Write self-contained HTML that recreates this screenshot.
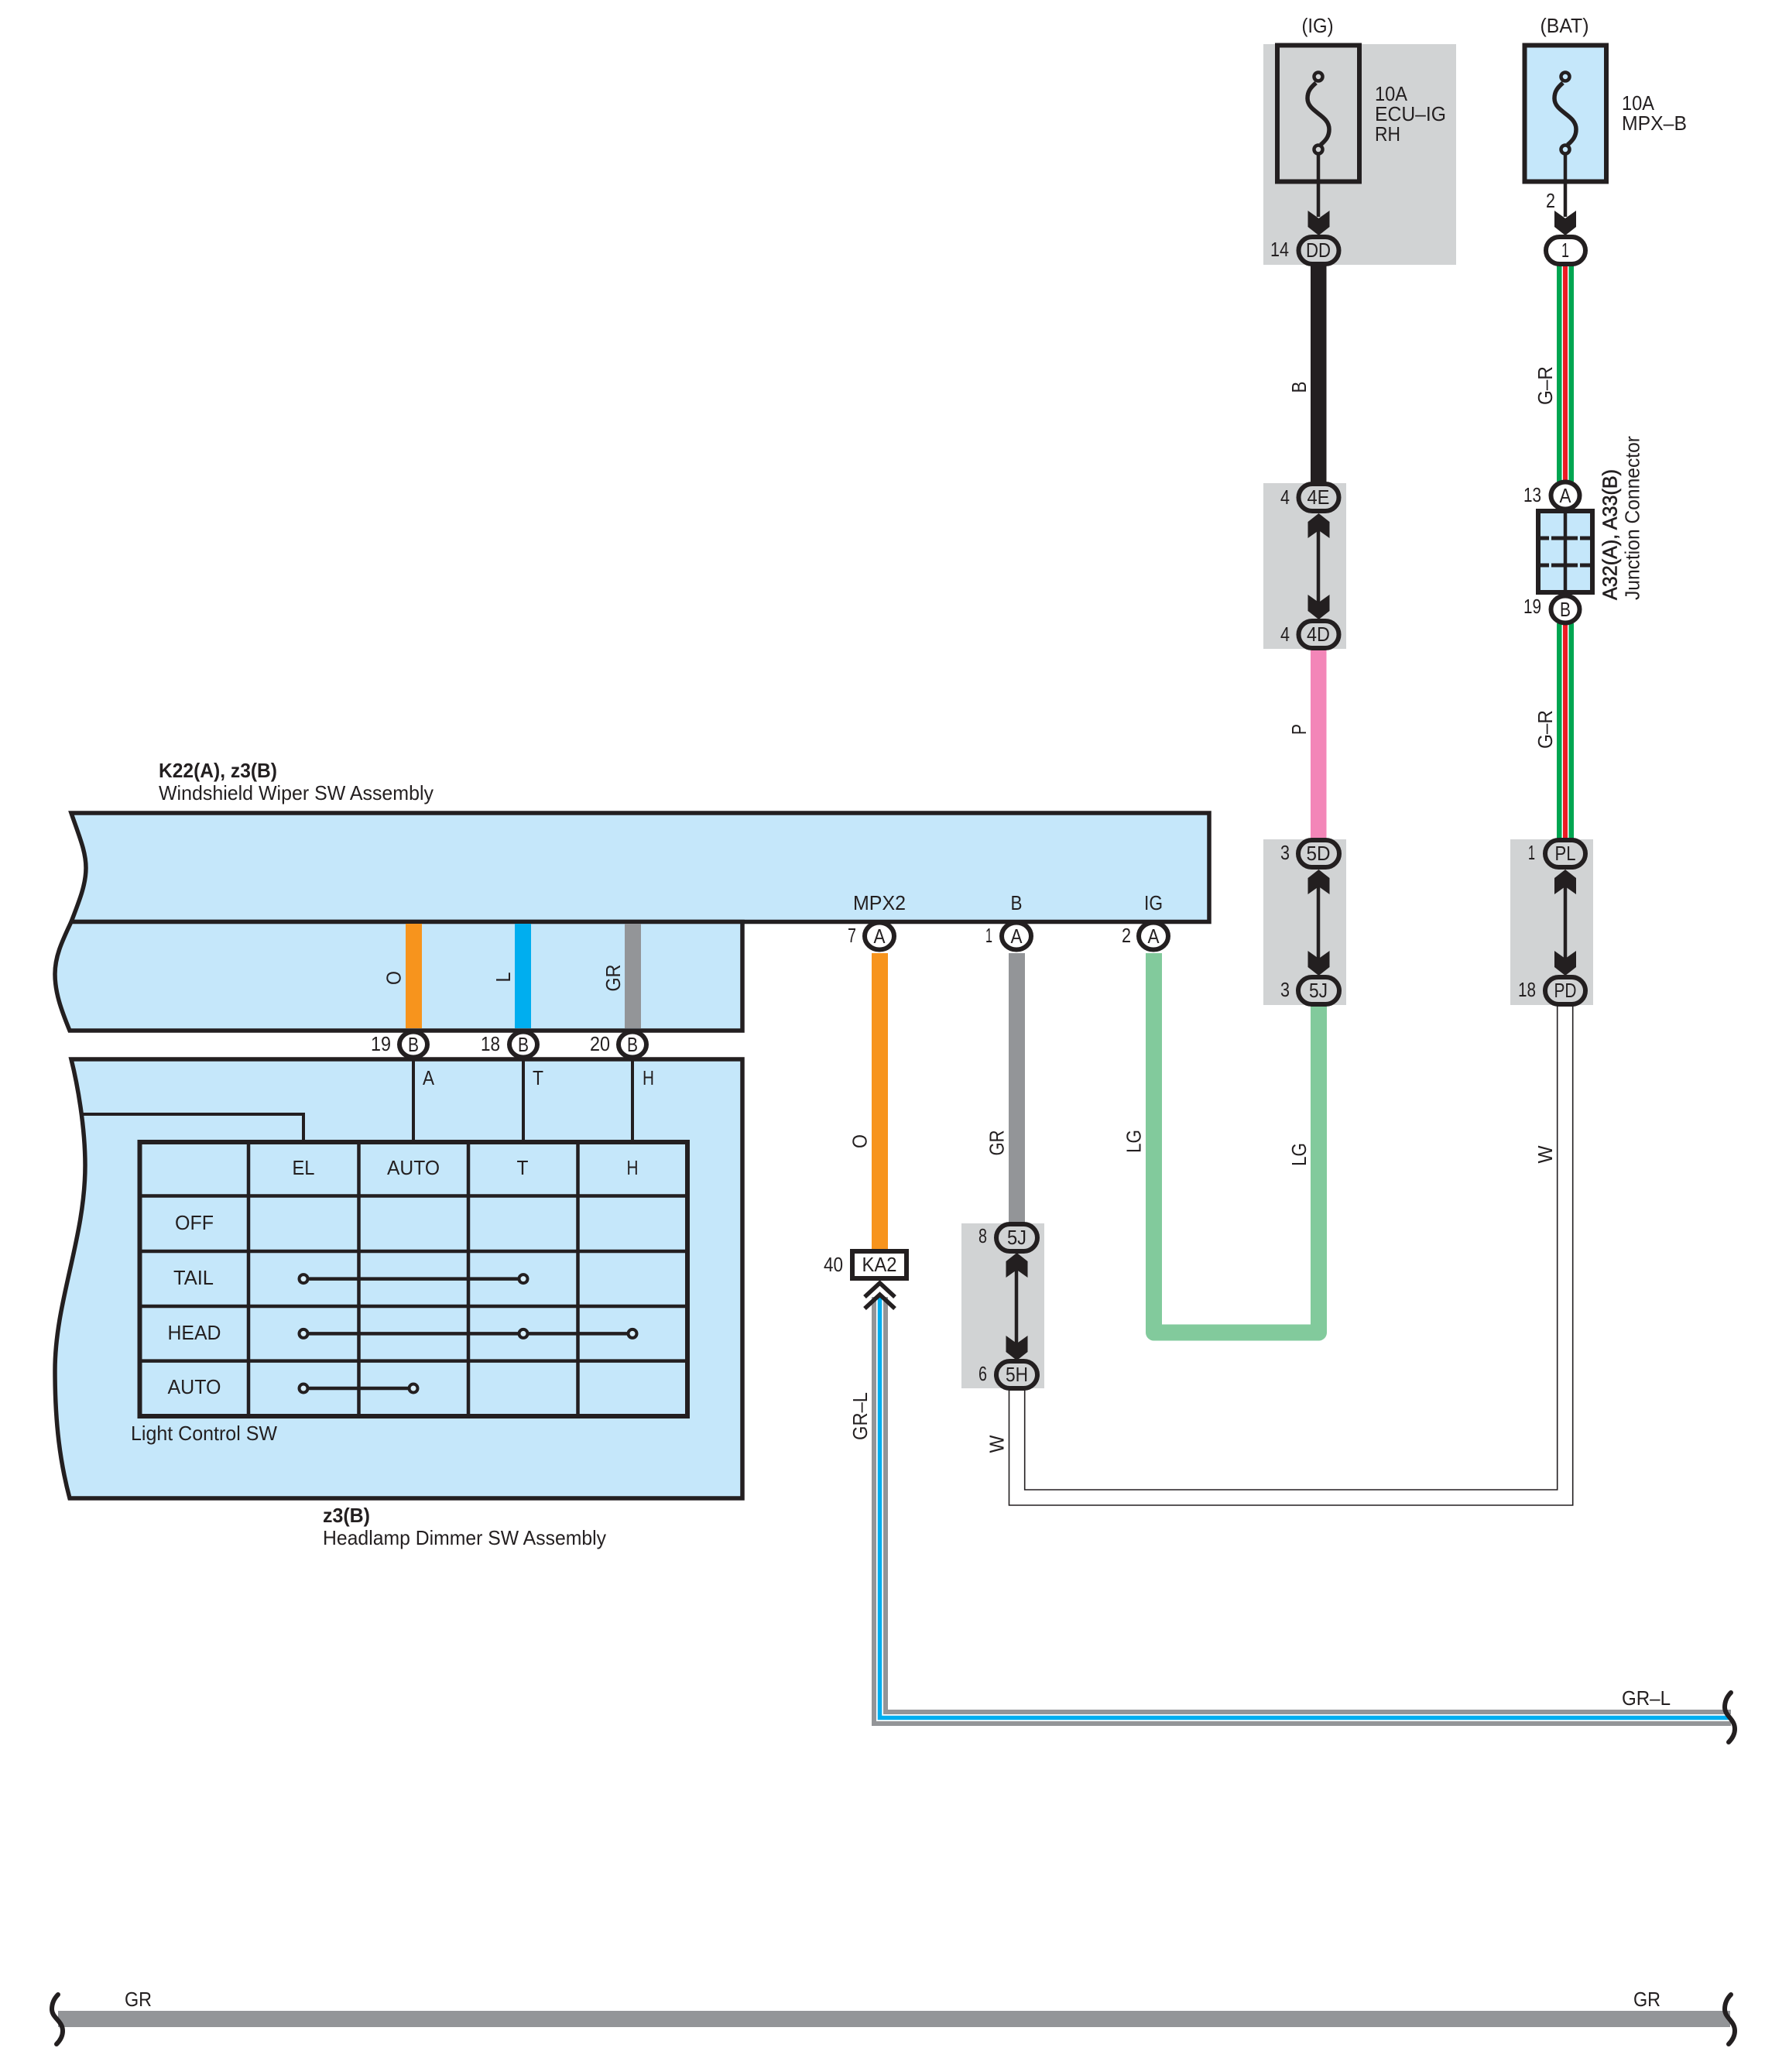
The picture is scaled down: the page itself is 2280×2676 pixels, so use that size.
<!DOCTYPE html>
<html>
<head>
<meta charset="utf-8">
<style>
html,body{margin:0;padding:0;background:#fff;width:2280px;height:2676px;overflow:hidden}
svg{display:block}
text{font-family:"Liberation Sans",sans-serif;font-size:26px;fill:#231f20}
.m{text-anchor:middle}
.b{font-weight:bold}
</style>
</head>
<body>
<svg width="2280" height="2676" viewBox="0 0 2280 2676" xmlns="http://www.w3.org/2000/svg">
<defs>
<polygon id="ad" points="-14,0 0,10 14,0 14,21 0,32 -14,21" fill="#231f20"/>
<polygon id="au" points="-14,0 0,-10 14,0 14,-21 0,-32 -14,-21" fill="#231f20"/>
</defs>

<!-- gray blocks -->
<g fill="#d1d3d4">
<rect x="1632" y="57" width="249" height="285"/>
<rect x="1632" y="624" width="107" height="214"/>
<rect x="1632" y="1084" width="107" height="214"/>
<rect x="1951" y="1084" width="107" height="214"/>
<rect x="1242" y="1580" width="107" height="213"/>
</g>

<!-- component boxes -->
<g fill="#c5e7fa" stroke="#231f20" stroke-width="5.5" stroke-linejoin="miter">
<path d="M92,1050 C103,1082 111,1100 111,1121 C111,1142 103,1162 92,1190.5 H1562 V1050 Z"/>
<path d="M92,1190.5 C79,1218 71,1236 71,1258 C71,1282 79,1304 90,1331 H959 V1190.5 Z"/>
<path d="M92,1368 C100,1400 110,1455 110,1505 C110,1600 71,1680 71,1770 C71,1840 78,1890 90,1935 H959 V1368 Z"/>
</g>

<!-- interior wires of switch -->
<g fill="none" stroke="#231f20" stroke-width="4">
<path d="M106,1439 H392 V1475"/>
<path d="M534,1368 V1475"/>
<path d="M676,1368 V1475"/>
<path d="M817,1368 V1475"/>
</g>

<!-- table -->
<g fill="none" stroke="#231f20">
<rect x="180.500" y="1475" width="707.500" height="354" stroke-width="6"/>
<g stroke-width="4.500">
<path d="M321,1475 V1829 M463.500,1475 V1829 M605,1475 V1829 M746.500,1475 V1829"/>
<path d="M180,1544.500 H888 M180,1616 H888 M180,1687 H888 M180,1757.600 H888"/>
</g>
<g stroke-width="4.500">
<path d="M392,1651.600 H675 M392,1722.400 H817 M392,1793 H534"/>
</g>
</g>
<g fill="#d9f0fc" stroke="#231f20" stroke-width="4">
<circle cx="392" cy="1651.600" r="5.500"/>
<circle cx="676" cy="1651.600" r="5.500"/>
<circle cx="392" cy="1722.400" r="5.500"/>
<circle cx="676" cy="1722.400" r="5.500"/>
<circle cx="817" cy="1722.400" r="5.500"/>
<circle cx="392" cy="1793" r="5.500"/>
<circle cx="534" cy="1793" r="5.500"/>
</g>

<!-- colored wires in switch -->
<rect x="524" y="1193" width="21" height="135" fill="#f7941d"/>
<rect x="665" y="1193" width="21" height="135" fill="#00aeef"/>
<rect x="807" y="1193" width="21" height="135" fill="#939598"/>

<!-- main wires -->
<rect x="1693" y="340" width="20.500" height="284" fill="#231f20"/>
<rect x="1693" y="838" width="20.500" height="246" fill="#f386b8"/>
<rect x="1126" y="1231" width="21" height="384" fill="#f7941d"/>
<rect x="1303" y="1231" width="21" height="350" fill="#939598"/>
<path d="M1490.500,1231 V1721 H1703.500 V1298" fill="none" stroke="#82ca9c" stroke-width="21" stroke-linejoin="round"/>

<!-- G-R wires -->
<g>
<rect x="2011" y="343" width="22" height="279" fill="#00a651"/>
<rect x="2017.500" y="343" width="9" height="279" fill="#fff"/>
<rect x="2019" y="343" width="6" height="279" fill="#ed1c24"/>
<rect x="2011" y="805" width="22" height="279" fill="#00a651"/>
<rect x="2017.500" y="805" width="9" height="279" fill="#fff"/>
<rect x="2019" y="805" width="6" height="279" fill="#ed1c24"/>
</g>

<!-- W wires -->
<g fill="none" stroke="#231f20" stroke-width="1.600">
<path d="M1303.500,1794 V1944 H2031.700 V1297"/>
<path d="M1323.700,1794 V1924 H2011.700 V1297"/>
</g>

<!-- GR-L wire -->
<g fill="none" stroke-linejoin="miter">
<path d="M1136.500,1675 V2218.500 H2236" stroke="#939598" stroke-width="21"/>
<path d="M1136.500,1675 V2218.500 H2236" stroke="#fff" stroke-width="9"/>
<path d="M1136.500,1675 V2218.500 H2236" stroke="#00aeef" stroke-width="5.500"/>
</g>

<!-- GR bottom wire -->
<path d="M75,2607.500 H2235" stroke="#939598" stroke-width="21" fill="none"/>

<!-- squiggles -->
<g fill="none" stroke="#231f20" stroke-width="6" stroke-linecap="round">
<path d="M2236,2186 C2230,2192 2228,2198 2228,2205 C2228,2216 2241,2220 2241,2233 C2241,2240 2238,2245 2233,2250"/>
<path d="M75,2576 C69,2582 67,2588 67,2595 C67,2606 81,2610 81,2623 C81,2630 78,2635 73,2640"/>
<path d="M2236,2576 C2230,2582 2228,2588 2228,2595 C2228,2606 2241,2610 2241,2623 C2241,2630 2238,2635 2233,2640"/>
</g>

<!-- fuses -->
<rect x="1650" y="58.500" width="106" height="176" fill="#d1d3d4" stroke="#231f20" stroke-width="6"/>
<rect x="1969.500" y="58.500" width="105.500" height="176" fill="#c5e7fa" stroke="#231f20" stroke-width="6"/>
<g fill="none" stroke="#231f20" stroke-width="5.500">
<path d="M1700,107 C1693,113 1689,118 1689,127 C1689,145 1717,148 1717,167 C1717,176 1713,181 1706,187"/>
<path d="M2019,107 C2012,113 2008,118 2008,127 C2008,145 2036,148 2036,167 C2036,176 2032,181 2025,187"/>
</g>
<circle cx="1703" cy="99" r="5.500" fill="#d1d3d4" stroke="#231f20" stroke-width="4.500"/>
<circle cx="1703" cy="193" r="5.500" fill="#d1d3d4" stroke="#231f20" stroke-width="4.500"/>
<circle cx="2022" cy="99" r="5.500" fill="#c5e7fa" stroke="#231f20" stroke-width="4.500"/>
<circle cx="2022" cy="193" r="5.500" fill="#c5e7fa" stroke="#231f20" stroke-width="4.500"/>

<!-- arrow lines -->
<g fill="none" stroke="#231f20" stroke-width="4.500">
<path d="M1703,199 V280"/>
<path d="M2022,199 V280"/>
<path d="M1703,680 V780"/>
<path d="M1703,1140 V1240"/>
<path d="M2022,1140 V1240"/>
<path d="M1313,1635 V1735"/>
</g>
<use href="#ad" x="1703.500" y="272"/>
<use href="#ad" x="2022" y="272"/>
<use href="#au" x="1703.500" y="695"/>
<use href="#ad" x="1703.500" y="768"/>
<use href="#au" x="1703.500" y="1155"/>
<use href="#ad" x="1703.500" y="1228"/>
<use href="#au" x="2022" y="1155"/>
<use href="#ad" x="2022" y="1228"/>
<use href="#au" x="1313.500" y="1650"/>
<use href="#ad" x="1313.500" y="1725"/>

<!-- chevrons -->
<g fill="none" stroke="#231f20" stroke-width="5.500">
<path d="M1117,1675 L1136.500,1657 L1156,1675"/>
<path d="M1117,1690 L1136.500,1672 L1156,1690"/>
</g>

<!-- ovals gray -->
<g fill="#d1d3d4" stroke="#231f20" stroke-width="6">
<rect x="1677.500" y="306" width="52" height="35" rx="17.500"/>
<rect x="1677.500" y="625" width="52" height="35" rx="17.500"/>
<rect x="1677.500" y="802" width="52" height="35" rx="17.500"/>
<rect x="1677" y="1085" width="53" height="35" rx="17.500"/>
<rect x="1677" y="1262" width="53" height="35" rx="17.500"/>
<rect x="1996" y="1085" width="52" height="35" rx="17.500"/>
<rect x="1996" y="1262" width="52" height="35" rx="17.500"/>
<rect x="1287" y="1581" width="53" height="35" rx="17.500"/>
<rect x="1287" y="1758" width="53" height="35" rx="17.500"/>
</g>
<rect x="1997" y="306" width="51" height="35" rx="17.500" fill="#fff" stroke="#231f20" stroke-width="6"/>

<!-- junction connector -->
<rect x="1987" y="660" width="70" height="105" fill="#c5e7fa" stroke="#231f20" stroke-width="6"/>
<path d="M2022,660 V765" stroke="#231f20" stroke-width="4.500" fill="none"/>
<path d="M1989,695 H2055 M1989,730 H2055" stroke="#231f20" stroke-width="5" stroke-dasharray="12 3 34 3 14 20" fill="none"/>

<!-- circles -->
<g fill="#fff" stroke="#231f20" stroke-width="6">
<ellipse cx="2022" cy="640" rx="18.500" ry="17.500"/>
<ellipse cx="2022" cy="787" rx="18.500" ry="17.500"/>
<ellipse cx="1136" cy="1209" rx="19" ry="17.500"/>
<ellipse cx="1313" cy="1209" rx="19" ry="17.500"/>
<ellipse cx="1490" cy="1209" rx="19" ry="17.500"/>
<ellipse cx="534" cy="1349" rx="18" ry="16.500"/>
<ellipse cx="676" cy="1349" rx="18" ry="16.500"/>
<ellipse cx="817" cy="1349" rx="18" ry="16.500"/>
</g>

<!-- KA2 -->
<rect x="1101" y="1616" width="70" height="35" fill="#fff" stroke="#231f20" stroke-width="6"/>

<!-- text: top -->
<text class="m" x="1702" y="42" textLength="41" lengthAdjust="spacingAndGlyphs">(IG)</text>
<text class="m" x="2021" y="42" textLength="63" lengthAdjust="spacingAndGlyphs">(BAT)</text>
<text x="1776" y="130" textLength="42" lengthAdjust="spacingAndGlyphs">10A</text>
<text x="1776" y="156" textLength="92" lengthAdjust="spacingAndGlyphs">ECU–IG</text>
<text x="1776" y="182" textLength="33" lengthAdjust="spacingAndGlyphs">RH</text>
<text x="2095" y="142" textLength="42" lengthAdjust="spacingAndGlyphs">10A</text>
<text x="2095" y="168" textLength="84" lengthAdjust="spacingAndGlyphs">MPX–B</text>
<text x="1997" y="268" textLength="12" lengthAdjust="spacingAndGlyphs">2</text>

<text x="1641" y="331" textLength="24" lengthAdjust="spacingAndGlyphs">14</text>
<text class="m" x="1703" y="332" textLength="32" lengthAdjust="spacingAndGlyphs">DD</text>
<text class="m" x="2022" y="332" textLength="10" lengthAdjust="spacingAndGlyphs">1</text>

<text x="1654" y="651" textLength="12" lengthAdjust="spacingAndGlyphs">4</text>
<text class="m" x="1703" y="651" textLength="29" lengthAdjust="spacingAndGlyphs">4E</text>
<text x="1654" y="828" textLength="12" lengthAdjust="spacingAndGlyphs">4</text>
<text class="m" x="1703" y="828" textLength="30" lengthAdjust="spacingAndGlyphs">4D</text>
<text x="1654" y="1110" textLength="12" lengthAdjust="spacingAndGlyphs">3</text>
<text class="m" x="1703" y="1111" textLength="31" lengthAdjust="spacingAndGlyphs">5D</text>
<text x="1654" y="1287" textLength="12" lengthAdjust="spacingAndGlyphs">3</text>
<text class="m" x="1703" y="1288" textLength="24" lengthAdjust="spacingAndGlyphs">5J</text>
<text x="1974" y="1110" textLength="9" lengthAdjust="spacingAndGlyphs">1</text>
<text class="m" x="2022" y="1111" textLength="27" lengthAdjust="spacingAndGlyphs">PL</text>
<text x="1961" y="1287" textLength="23" lengthAdjust="spacingAndGlyphs">18</text>
<text class="m" x="2022" y="1288" textLength="29" lengthAdjust="spacingAndGlyphs">PD</text>

<text x="1968" y="648" textLength="23" lengthAdjust="spacingAndGlyphs">13</text>
<text class="m" x="2022" y="649" textLength="15" lengthAdjust="spacingAndGlyphs">A</text>
<text x="1968" y="792" textLength="23" lengthAdjust="spacingAndGlyphs">19</text>
<text class="m" x="2022" y="796" textLength="14" lengthAdjust="spacingAndGlyphs">B</text>

<text transform="translate(2088.500,775) rotate(-90)" textLength="169" lengthAdjust="spacingAndGlyphs" style="stroke:#231f20;stroke-width:.6px">A32(A), A33(B)</text>
<text transform="translate(2117.500,775) rotate(-90)" textLength="212" lengthAdjust="spacingAndGlyphs">Junction Connector</text>

<!-- wire labels rotated -->
<text class="m" transform="translate(1687,500) rotate(-90)" textLength="15" lengthAdjust="spacingAndGlyphs">B</text>
<text class="m" transform="translate(1687,942) rotate(-90)" textLength="14" lengthAdjust="spacingAndGlyphs">P</text>
<text class="m" transform="translate(1687,1491) rotate(-90)" textLength="30" lengthAdjust="spacingAndGlyphs">LG</text>
<text class="m" transform="translate(2005,498) rotate(-90)" textLength="50" lengthAdjust="spacingAndGlyphs">G–R</text>
<text class="m" transform="translate(2005,942) rotate(-90)" textLength="50" lengthAdjust="spacingAndGlyphs">G–R</text>
<text class="m" transform="translate(2005,1491) rotate(-90)" textLength="23" lengthAdjust="spacingAndGlyphs">W</text>
<text class="m" transform="translate(1119.500,1474) rotate(-90)" textLength="18" lengthAdjust="spacingAndGlyphs">O</text>
<text class="m" transform="translate(1296.500,1476) rotate(-90)" textLength="33" lengthAdjust="spacingAndGlyphs">GR</text>
<text class="m" transform="translate(1473.500,1474) rotate(-90)" textLength="30" lengthAdjust="spacingAndGlyphs">LG</text>
<text class="m" transform="translate(1120,1829) rotate(-90)" textLength="62" lengthAdjust="spacingAndGlyphs">GR–L</text>
<text class="m" transform="translate(1296.500,1865) rotate(-90)" textLength="23" lengthAdjust="spacingAndGlyphs">W</text>
<text class="m" transform="translate(517.500,1263) rotate(-90)" textLength="18" lengthAdjust="spacingAndGlyphs">O</text>
<text class="m" transform="translate(659,1262) rotate(-90)" textLength="13" lengthAdjust="spacingAndGlyphs">L</text>
<text class="m" transform="translate(801,1263) rotate(-90)" textLength="35" lengthAdjust="spacingAndGlyphs">GR</text>

<!-- ECU pin labels -->
<text class="m" x="1136" y="1175" textLength="68" lengthAdjust="spacingAndGlyphs">MPX2</text>
<text class="m" x="1313" y="1175" textLength="15" lengthAdjust="spacingAndGlyphs">B</text>
<text class="m" x="1490" y="1175" textLength="24" lengthAdjust="spacingAndGlyphs">IG</text>
<text x="1095" y="1217" textLength="11" lengthAdjust="spacingAndGlyphs">7</text>
<text x="1273" y="1217" textLength="9" lengthAdjust="spacingAndGlyphs">1</text>
<text x="1449" y="1217" textLength="12" lengthAdjust="spacingAndGlyphs">2</text>
<text class="m" x="1136" y="1218" textLength="15" lengthAdjust="spacingAndGlyphs">A</text>
<text class="m" x="1313" y="1218" textLength="15" lengthAdjust="spacingAndGlyphs">A</text>
<text class="m" x="1490" y="1218" textLength="15" lengthAdjust="spacingAndGlyphs">A</text>

<text x="1064" y="1642" textLength="25" lengthAdjust="spacingAndGlyphs">40</text>
<text class="m" x="1136" y="1642" textLength="45" lengthAdjust="spacingAndGlyphs">KA2</text>
<text x="1264" y="1605" textLength="11" lengthAdjust="spacingAndGlyphs">8</text>
<text class="m" x="1313.500" y="1607" textLength="25" lengthAdjust="spacingAndGlyphs">5J</text>
<text x="1264" y="1783" textLength="11" lengthAdjust="spacingAndGlyphs">6</text>
<text class="m" x="1313.500" y="1784" textLength="29" lengthAdjust="spacingAndGlyphs">5H</text>

<!-- switch labels -->
<text class="b" x="205" y="1004" textLength="153" lengthAdjust="spacingAndGlyphs">K22(A), z3(B)</text>
<text x="205" y="1033" textLength="355" lengthAdjust="spacingAndGlyphs">Windshield Wiper SW Assembly</text>
<text x="479" y="1357" textLength="26" lengthAdjust="spacingAndGlyphs">19</text>
<text x="621" y="1357" textLength="25" lengthAdjust="spacingAndGlyphs">18</text>
<text x="762" y="1357" textLength="26" lengthAdjust="spacingAndGlyphs">20</text>
<text class="m" x="534" y="1358" textLength="14" lengthAdjust="spacingAndGlyphs">B</text>
<text class="m" x="676" y="1358" textLength="14" lengthAdjust="spacingAndGlyphs">B</text>
<text class="m" x="817" y="1358" textLength="14" lengthAdjust="spacingAndGlyphs">B</text>
<text x="546" y="1401" textLength="15" lengthAdjust="spacingAndGlyphs">A</text>
<text x="688" y="1401" textLength="14" lengthAdjust="spacingAndGlyphs">T</text>
<text x="830" y="1401" textLength="15" lengthAdjust="spacingAndGlyphs">H</text>

<text class="m" x="392" y="1517" textLength="29" lengthAdjust="spacingAndGlyphs">EL</text>
<text class="m" x="534" y="1517" textLength="68" lengthAdjust="spacingAndGlyphs">AUTO</text>
<text class="m" x="675" y="1517" textLength="15" lengthAdjust="spacingAndGlyphs">T</text>
<text class="m" x="817" y="1517" textLength="15" lengthAdjust="spacingAndGlyphs">H</text>
<text class="m" x="251" y="1588" textLength="50" lengthAdjust="spacingAndGlyphs">OFF</text>
<text class="m" x="250" y="1659" textLength="52" lengthAdjust="spacingAndGlyphs">TAIL</text>
<text class="m" x="251" y="1730" textLength="69" lengthAdjust="spacingAndGlyphs">HEAD</text>
<text class="m" x="251" y="1800" textLength="69" lengthAdjust="spacingAndGlyphs">AUTO</text>
<text x="169" y="1860" textLength="189" lengthAdjust="spacingAndGlyphs">Light Control SW</text>
<text class="b" x="417" y="1966" textLength="61" lengthAdjust="spacingAndGlyphs">z3(B)</text>
<text x="417" y="1995" textLength="366" lengthAdjust="spacingAndGlyphs">Headlamp Dimmer SW Assembly</text>

<!-- far labels -->
<text x="2095" y="2202" textLength="63" lengthAdjust="spacingAndGlyphs">GR–L</text>
<text x="161" y="2591" textLength="35" lengthAdjust="spacingAndGlyphs">GR</text>
<text x="2110" y="2591" textLength="35" lengthAdjust="spacingAndGlyphs">GR</text>
</svg>
</body>
</html>
